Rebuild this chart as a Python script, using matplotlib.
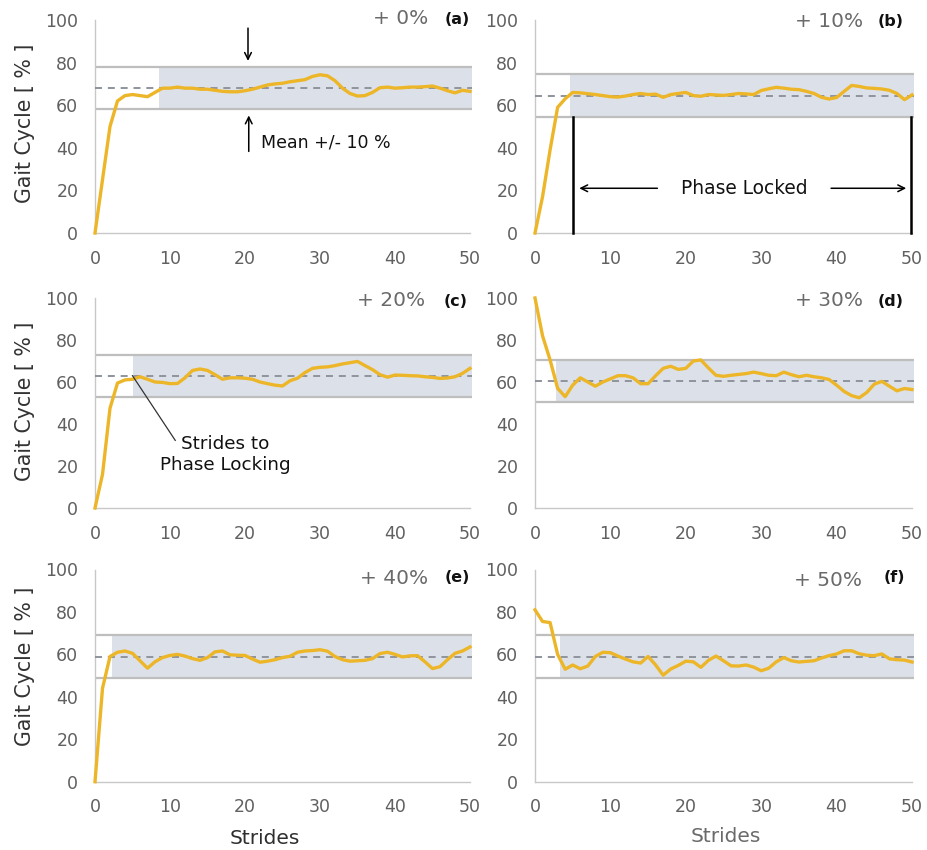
import numpy as np
import matplotlib
matplotlib.use("Agg")
import matplotlib.pyplot as plt

# Stride index and gait-cycle phase (%) per perturbation level
strides = np.arange(51)

phase_a = [0, 25, 50, 62, 64.5, 65, 64.5, 64, 66, 68, 68, 68.5, 68, 68, 67.5, 67.5, 67,
           66.5, 66.3, 66.3, 66.8, 67.5, 68.5, 69.5, 70, 70.3, 71, 71.5, 72, 73.5, 74.3,
           73.8, 71.5, 68, 65.5, 64.3, 64.5, 66, 68.2, 68.5, 68, 68.2, 68.5, 68.5, 68.7,
           69, 68, 66.8, 65.8, 67, 66.5]
phase_b = [0, 17, 39, 59, 63, 66, 65.8, 65.4, 65, 64.5, 64, 63.8, 64.3, 65, 65.5, 65, 65.2,
           63.7, 65, 65.5, 66, 64.5, 64.2, 65, 64.8, 64.6, 65, 65.5, 65.3, 65, 66.9, 67.7,
           68.4, 68, 67.5, 67.3, 66.5, 65.5, 63.7, 62.9, 63.6, 66.5, 69.3, 68.8, 68.1,
           67.9, 67.6, 67, 65.5, 62.6, 64.8]
phase_c = [0, 16, 47.5, 59.5, 61, 61.3, 62.5, 61.3, 60, 59.8, 59.2, 59.3, 62, 65.5, 66.2,
           65.5, 63.5, 61.3, 62, 62, 61.8, 61.3, 60, 59.2, 58.5, 58.1, 60.6, 61.8, 64.5,
           66.5, 67, 67.2, 67.8, 68.6, 69.2, 69.8, 67.8, 65.9, 63.5, 62.3, 63.3, 63.2, 63,
           62.9, 62.5, 62.2, 61.7, 61.9, 62.5, 64.1, 66.5]
phase_d = [100, 82, 70.5, 57, 53, 58.5, 62, 60, 58, 60, 61.5, 63, 63, 62, 59.2, 59.2, 63,
           66.5, 67.5, 66, 66.5, 70, 70.5, 66.7, 63.2, 62.7, 63.2, 63.6, 64, 64.7, 64,
           63.2, 63, 64.7, 63.5, 62.5, 63.2, 62.5, 62, 61.2, 58.5, 55.5, 53.5, 52.5, 55,
           59, 60.3, 58, 55.8, 56.9, 56.4]
phase_e = [0, 44, 59, 61, 61.6, 60.5, 57, 53.5, 56.5, 58.5, 59.5, 60, 59.2, 58, 57.2, 58.5,
           61.2, 61.6, 59.8, 59.6, 59.5, 57.8, 56.3, 56.8, 57.5, 58.5, 59.1, 61, 61.6, 61.8,
           62.2, 61.5, 59, 57.5, 56.8, 57, 57.2, 58, 60.4, 61, 60, 58.8, 59.3, 59.4, 56.5,
           53.3, 54.2, 57.5, 60.5, 61.6, 63.5]
phase_f = [81, 75.5, 75, 60, 53, 55, 53.2, 54.5, 59, 61, 60.8, 59.2, 57.8, 56.5, 55.9, 59,
           55, 50.2, 53.1, 54.8, 56.8, 56.5, 53.9, 57.2, 59.2, 57, 54.6, 54.5, 55, 54, 52.3,
           53.5, 56.5, 58.5, 57, 56.4, 56.7, 57, 58.3, 59.4, 60.2, 61.7, 61.7, 60.3, 59.6,
           59.4, 60.2, 57.9, 57.5, 57.3, 56.4]

series = [phase_a, phase_b, phase_c, phase_d, phase_e, phase_f]
means = [68, 64.5, 63, 60.5, 59, 59]            # steady-state mean phase
lock_stride = [8.5, 4.6, 5.0, 2.75, 2.3, 3.3]   # stride where phase locking begins
band_halfwidth = 10
levels = ["+ 0%", "+ 10%", "+ 20%", "+ 30%", "+ 40%", "+ 50%"]
letters = ["(a)", "(b)", "(c)", "(d)", "(e)", "(f)"]
x_ticks = [0, 10, 20, 30, 40, 50]
y_ticks = [0, 20, 40, 60, 80, 100]

W, H = 927, 850
fig = plt.figure(figsize=(W / 100, H / 100), dpi=100)
plt.rcParams["font.family"] = ["DejaVu Sans"]


def fx(px):
    return px / W


def fy(py):
    return 1 - py / H


# panel boxes in pixels: left, top, right, bottom
col_lr = [(95, 470), (535, 912)]
row_tb = [(20, 233), (298, 508), (569.5, 781.7)]

curve_col = "#EDB628"
band_fill = "#DCE1E9"
band_line = "#BEBEBE"
mean_col = "#8E939C"
tick_col = "#606060"
spine_col = "#C8C8C8"

axes = []
for i, vals in enumerate(series):
    r, c = divmod(i, 2)
    l, rr = col_lr[c]
    t, b = row_tb[r]
    ax = fig.add_axes([fx(l), fy(b), (rr - l) / W, (b - t) / H])
    axes.append(ax)
    ax.set_xlim(0, 50)
    ax.set_ylim(0, 100)
    m = means[i]
    lo, hi = m - band_halfwidth, m + band_halfwidth
    ax.fill_between([lock_stride[i], 50.3], lo, hi, color=band_fill, lw=0, zorder=1,
                    clip_on=False)
    for yv in (lo, hi):
        ax.plot([0, 50.3], [yv, yv], color=band_line, lw=1.6, zorder=2, clip_on=False,
                solid_capstyle="butt")
    ax.plot([0, 50.3], [m, m], color=mean_col, lw=1.4, zorder=3, clip_on=False,
            linestyle=(0, (3.6, 3.0)))
    ax.plot(strides, vals, color=curve_col, lw=2.4, zorder=4, clip_on=False,
            solid_joinstyle="round")
    for s in ("top", "right"):
        ax.spines[s].set_visible(False)
    for s in ("left", "bottom"):
        ax.spines[s].set_color(spine_col)
        ax.spines[s].set_linewidth(1.0)
    ax.set_xticks(x_ticks)
    ax.set_yticks(y_ticks)
    ax.tick_params(length=0, pad=12, labelsize=12.5, labelcolor=tick_col)
    ax.patch.set_alpha(0)

# perturbation level and panel letter
level_pos = [(428, 19), (863, 21.5), (425, 301), (863, 301), (428, 578), (862, 581)]
letter_pos = [(457, 19), (891, 21), (456, 301), (891, 301), (457, 578), (894, 578)]
for i in range(6):
    fig.text(fx(level_pos[i][0]), fy(level_pos[i][1]), levels[i], ha="right", va="center",
             fontsize=14.5, color="#6A6A6A")
    fig.text(fx(letter_pos[i][0]), fy(letter_pos[i][1]), letters[i], ha="center",
             va="center", fontsize=11.5, fontweight="bold", color="#111111")

# axis titles
for yc in (123, 401, 666):
    fig.text(fx(25), fy(yc), "Gait Cycle [ % ]", rotation=90, ha="center", va="center",
             fontsize=14.8, color="#333333")
fig.text(fx(265), fy(838), "Strides", ha="center", va="center", fontsize=14.5,
         color="#2E2E2E")
fig.text(fx(726), fy(837), "Strides", ha="center", va="center", fontsize=14.5,
         color="#6A6A6A")

# (a) mean +/- 10 % band annotation
ax = axes[0]
arrow_kw = dict(arrowstyle="->", color="black", lw=1.1, mutation_scale=12)
ax.annotate("", xy=(20.4, means[0] + band_halfwidth + 1.5), xytext=(20.4, 97.5),
            arrowprops=arrow_kw, annotation_clip=False)
ax.annotate("", xy=(20.5, means[0] - band_halfwidth - 1.5), xytext=(20.5, 37),
            arrowprops=arrow_kw, annotation_clip=False)
ax.text(22.1, 42.5, "Mean +/- 10 %", ha="left", va="center", fontsize=12.5,
        color="#111111")

# (b) phase locked interval
ax = axes[1]
lock_b0, lock_b1 = 5.1, 49.9
for xv in (lock_b0, lock_b1):
    ax.plot([xv, xv], [0, means[1] - band_halfwidth], color="black", lw=1.8, zorder=5,
            clip_on=False)
ax.annotate("", xy=(lock_b0 + 0.4, 21), xytext=(16.6, 21), arrowprops=arrow_kw)
ax.annotate("", xy=(lock_b1 - 0.3, 21), xytext=(38.9, 21), arrowprops=arrow_kw)
ax.text(27.8, 21, "Phase Locked", ha="center", va="center", fontsize=13.4,
        color="#111111")

# (c) strides to phase locking
ax = axes[2]
ax.plot([lock_stride[2], 10.7], [means[2], 32.2], color="#333333", lw=0.9, zorder=5)
ax.text(17.4, 25.5, "Strides to\nPhase Locking", ha="center", va="center", fontsize=13.2,
        color="#111111", linespacing=1.2)

fig.savefig("out.png", dpi=100)
